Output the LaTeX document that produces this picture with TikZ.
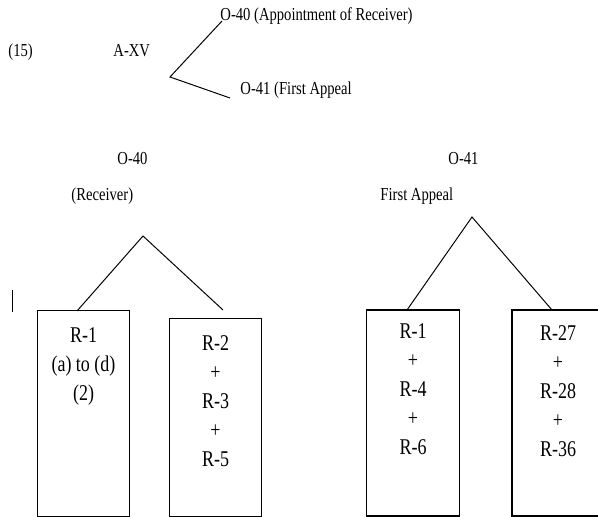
\documentclass[tikz,border=0pt]{standalone}
\usepackage{fontspec}
\setmainfont[FakeStretch=0.8]{Liberation Serif}
\usetikzlibrary{positioning}

\begin{document}
\begin{tikzpicture}[x=0.025cm,y=-0.025cm,line width=0.7pt,
	lbl/.style={font=\fontsize{13}{15}\selectfont,inner sep=0pt,anchor=base west},
	rbox/.style={shape=rectangle,draw,line width=0.8pt,minimum width=2.32cm,inner sep=0pt},
	rtext/.style={font=\fontsize{16}{20.6}\selectfont,align=center,inner sep=0pt,anchor=north}]
	\useasboundingbox (0,0) rectangle (598,517);

	% heading line
	\node (num) [lbl] at (8,57) {(15)};
	\node (axv) [lbl] at (113,57) {A-XV};
	\node (oa) [lbl] at (220,21) {O-40 (Appointment of Receiver)};
	\node (ob) [lbl] at (240,95) {O-41 (First Appeal};
	\coordinate (fork) at (170,77);
	\coordinate (forka) at (222,21);
	\coordinate (forkb) at (230,98);
	\draw (forka) -- (fork) -- (forkb);

	% left tree
	\node (left) [lbl] at (117,165) {O-40};
	\node (leftsub) [lbl] at (71,201) {(Receiver)};
	\node (boxa) [rbox,minimum height=5.13cm] at (83.5,413.5) {};
	\node (boxb) [rbox,minimum height=4.93cm] at (215.5,417.5) {};
	\node (texta) [rtext] at (83.5,327) {R-1\\(a) to (d)\\(2)};
	\node (textb) [rtext] at (215.5,335) {R-2\\+\\R-3\\+\\R-5};
	\coordinate (apexa) at (143,236);
	\coordinate (enda) at (77,311);
	\coordinate (endb) at (223,310);
	\draw (enda) -- (apexa) -- (endb);

	% right tree (last box runs off the page)
	\node (right) [lbl] at (448,165) {O-41};
	\node (rightsub) [lbl] at (380,201) {First Appeal};
	\node (boxc) [rbox,minimum height=5.15cm] at (413,413) {};
	\node (boxd) [rbox,minimum height=5.15cm,minimum width=2.7cm] at (566,413) {};
	\node (textc) [rtext] at (413,323) {R-1\\+\\R-4\\+\\R-6};
	\node (textd) [rtext] at (558,325) {R-27\\+\\R-28\\+\\R-36};
	\coordinate (apexb) at (472,217);
	\coordinate (endc) at (407,310);
	\coordinate (endd) at (552,310);
	\draw (endc) -- (apexb) -- (endd);

	% stray bar
	\draw[line width=0.6pt] (12,290) -- (12,312);
\end{tikzpicture}
\end{document}
